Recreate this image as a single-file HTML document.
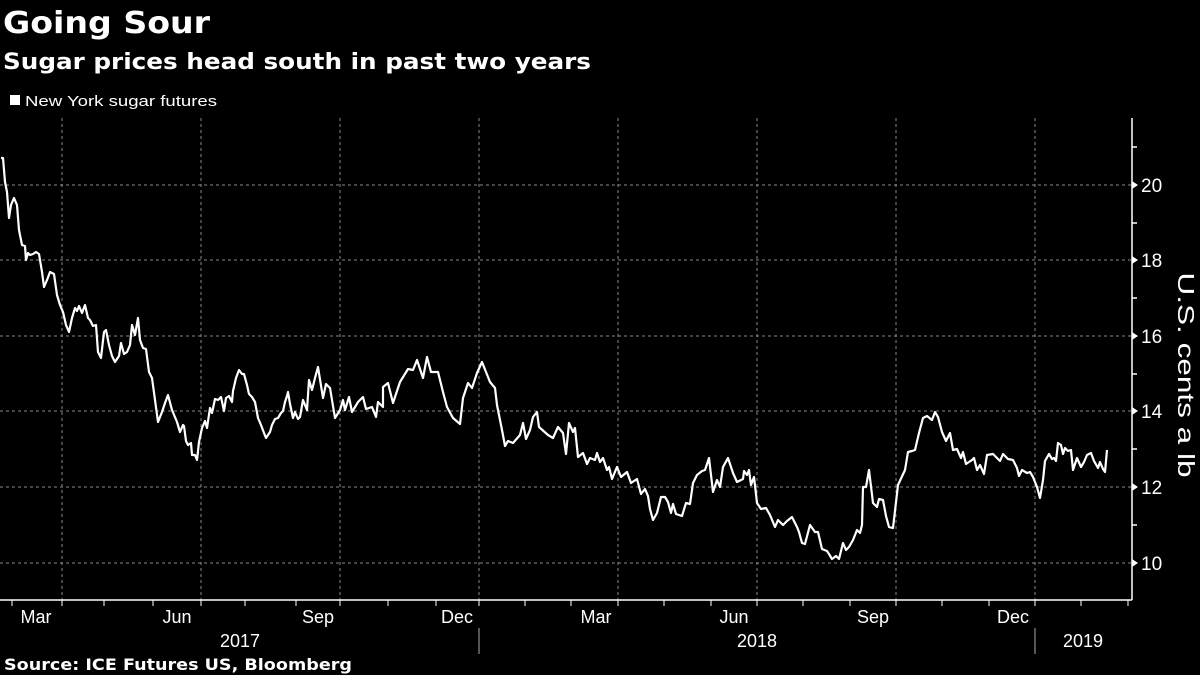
<!DOCTYPE html>
<html><head><meta charset="utf-8"><style>
html,body{margin:0;padding:0;background:#000;width:1200px;height:675px;overflow:hidden}
svg{display:block}
text{font-family:"Liberation Sans","DejaVu Sans",sans-serif;fill:#fff}
.b{font-family:"DejaVu Sans","Liberation Sans",sans-serif;font-weight:bold}
</style></head><body>
<svg width="1200" height="675" viewBox="0 0 1200 675" xmlns="http://www.w3.org/2000/svg">
<text class="b" x="3" y="33" font-size="30" textLength="207" lengthAdjust="spacingAndGlyphs">Going Sour</text>
<text class="b" x="3" y="69" font-size="22" textLength="588" lengthAdjust="spacingAndGlyphs">Sugar prices head south in past two years</text>
<rect x="10" y="95" width="10" height="10" fill="#fff"/>
<text x="25" y="106" font-size="15" textLength="192" lengthAdjust="spacingAndGlyphs">New York sugar futures</text>
<g stroke="#888" stroke-width="1" stroke-dasharray="3,3">
<line x1="0" y1="185" x2="1132" y2="185"/><line x1="0" y1="260" x2="1132" y2="260"/>
<line x1="0" y1="336" x2="1132" y2="336"/><line x1="0" y1="411" x2="1132" y2="411"/>
<line x1="0" y1="487" x2="1132" y2="487"/><line x1="0" y1="563" x2="1132" y2="563"/>
<line x1="62" y1="118" x2="62" y2="600"/><line x1="201" y1="118" x2="201" y2="600"/>
<line x1="340" y1="118" x2="340" y2="600"/><line x1="479" y1="118" x2="479" y2="600"/>
<line x1="618" y1="118" x2="618" y2="600"/><line x1="757" y1="118" x2="757" y2="600"/>
<line x1="896" y1="118" x2="896" y2="600"/><line x1="1035" y1="118" x2="1035" y2="600"/>
</g>
<g stroke="#fff" stroke-width="1.5">
<line x1="0" y1="600" x2="1132" y2="600"/>
<line x1="1132" y1="118" x2="1132" y2="600"/>
<line x1="1132" y1="147" x2="1137" y2="147"/><line x1="1132" y1="223" x2="1137" y2="223"/>
<line x1="1132" y1="298" x2="1137" y2="298"/><line x1="1132" y1="374" x2="1137" y2="374"/>
<line x1="1132" y1="449" x2="1137" y2="449"/><line x1="1132" y1="525" x2="1137" y2="525"/>
</g>
<g fill="#fff">
<polygon points="1132,181 1138,185 1132,189"/><polygon points="1132,256 1138,260 1132,264"/>
<polygon points="1132,332 1138,336 1132,340"/><polygon points="1132,407 1138,411 1132,415"/>
<polygon points="1132,483 1138,487 1132,491"/><polygon points="1132,559 1138,563 1132,567"/>
</g>
<g font-size="19">
<text x="1141" y="192">20</text><text x="1141" y="267">18</text><text x="1141" y="343">16</text>
<text x="1141" y="418">14</text><text x="1141" y="494">12</text><text x="1141" y="570">10</text>
</g>
<text transform="translate(1178,375) rotate(90)" text-anchor="middle" font-size="23" textLength="205" lengthAdjust="spacingAndGlyphs">U.S. cents a lb</text>
<g stroke="#fff" stroke-width="1">
<line x1="12" y1="600" x2="12" y2="606"/><line x1="62" y1="600" x2="62" y2="606"/><line x1="104" y1="600" x2="104" y2="606"/>
<line x1="153" y1="600" x2="153" y2="606"/><line x1="201" y1="600" x2="201" y2="606"/><line x1="245" y1="600" x2="245" y2="606"/>
<line x1="296" y1="600" x2="296" y2="606"/><line x1="340" y1="600" x2="340" y2="606"/><line x1="388" y1="600" x2="388" y2="606"/>
<line x1="436" y1="600" x2="436" y2="606"/><line x1="479" y1="600" x2="479" y2="606"/><line x1="525" y1="600" x2="525" y2="606"/>
<line x1="571" y1="600" x2="571" y2="606"/><line x1="618" y1="600" x2="618" y2="606"/><line x1="664" y1="600" x2="664" y2="606"/>
<line x1="711" y1="600" x2="711" y2="606"/><line x1="757" y1="600" x2="757" y2="606"/><line x1="803" y1="600" x2="803" y2="606"/>
<line x1="850" y1="600" x2="850" y2="606"/><line x1="896" y1="600" x2="896" y2="606"/><line x1="942" y1="600" x2="942" y2="606"/>
<line x1="989" y1="600" x2="989" y2="606"/><line x1="1035" y1="600" x2="1035" y2="606"/><line x1="1081" y1="600" x2="1081" y2="606"/>
<line x1="1128" y1="600" x2="1128" y2="606"/>
<line x1="479" y1="628" x2="479" y2="654" stroke="#aaa"/><line x1="1035" y1="628" x2="1035" y2="654" stroke="#aaa"/>
</g>
<g font-size="18" text-anchor="middle">
<text x="36" y="623">Mar</text><text x="177" y="623">Jun</text><text x="318" y="623">Sep</text><text x="457" y="623">Dec</text>
<text x="596" y="623">Mar</text><text x="734" y="623">Jun</text><text x="873" y="623">Sep</text><text x="1013" y="623">Dec</text>
<text x="240" y="647">2017</text><text x="757" y="647">2018</text><text x="1083" y="647">2019</text>
</g>
<text class="b" x="4" y="670" font-size="16" textLength="348" lengthAdjust="spacingAndGlyphs">Source: ICE Futures US, Bloomberg</text>
<polyline fill="none" stroke="#fff" stroke-width="2.2" stroke-linejoin="round" points="
1,158 3,158 5,182 7,192 9,218 11,205 14,198 17,205 19,230 22,245 25,246 26,260 28,253 30,255 33,254 36,252 39,254 42,272 44,287 47,280 50,272 54,274 57,295 60,305 63,312 66,325 69,332 72,318 75,308 77,311 79,306 82,313 85,305 88,318 90,320 93,326 96,325 98,352 101,358 104,332 106,330 109,345 112,356 115,362 119,356 121,343 124,354 127,352 130,345 132,325 135,335 138,318 140,340 143,348 146,349 149,372 152,378 155,400 158,422 162,412 165,403 168,395 172,410 177,422 180,432 183,425 184,426 186,441 188,445 191,443 192,455 195,455 197,460 199,442 202,428 205,421 207,428 210,408 212,413 215,399 218,400 221,397 224,411 226,398 229,396 232,402 233,391 236,378 239,370 242,374 244,374 247,385 249,394 252,397 255,402 258,418 261,425 264,433 266,438 268,435 270,432 272,425 275,419 278,418 281,413 283,411 285,402 287,396 288,392 290,404 293,418 295,412 298,419
300,417 303,400 307,410 309,380 312,390 315,378 318,367 323,398 326,384 330,388 335,418 340,410 343,400 345,410 349,397 352,412 358,402 363,397 366,409 372,407 376,417 378,402 383,407 383,387 388,383 393,403 400,382 408,369 413,370 417,360 423,378 427,357 431,372 438,372 443,392 447,407 453,418 460,424 463,398 468,383 472,388 477,373 482,362 490,382 495,388 497,405 502,430 505,446 508,441 513,443 520,435 523,423 526,439 530,430 533,417 537,412 539,427 548,435 553,438 558,427 563,433 566,454 569,423 573,432 575,428 578,457 583,453 587,464 590,458 595,460 597,453 600,462
603,458 607,470 609,467 612,479 617,467 621,477 627,472 631,483 637,479 641,494 645,489 648,496 650,509 653,520 657,513 661,497 665,497 668,502 671,513 673,504 676,514 682,516 686,503 690,504 693,483 697,475 702,471 705,470 709,458 713,492 717,480 720,487 723,467 728,458 733,473 737,482 743,479 744,471 747,475 749,470 751,485 754,477 757,503 761,509 766,508 770,515 775,527 778,520 783,525 787,521 792,517 797,527 799,532 802,543 805,544 810,525 815,532 818,532 822,549 827,551 829,554 832,559 836,556 839,559 843,543 846,550 849,547 853,540 857,530 860,533 862,525 863,487 866,487 869,470 873,503 877,507 879,499 883,500 886,516 889,527 893,528 898,485
905,470 908,452 912,451 915,450 919,433 923,418 927,416 932,420 935,412 938,417 942,432 946,441 950,433 953,450 957,449 961,458 963,452 966,464 972,460 974,458 977,470 980,465 984,474 987,455 993,454 997,458 1000,461 1003,454 1008,459 1013,460 1017,468 1019,476 1022,470 1027,473 1030,472 1033,477 1037,487 1040,498 1043,480 1045,461 1049,454 1052,459 1054,458 1056,461 1058,443 1061,445 1063,454 1065,448 1068,451 1071,450 1073,470 1077,458 1081,467 1084,462 1087,455 1091,453 1094,461 1098,468 1100,462 1103,469 1105,472 1107,450"/>
</svg>
</body></html>
